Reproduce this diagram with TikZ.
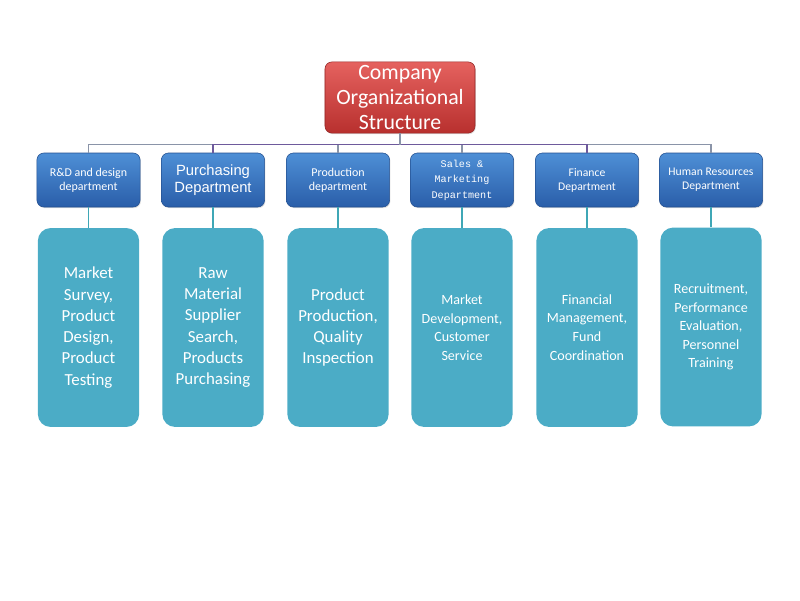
\documentclass[tikz,border=0pt]{standalone}
\usepackage{fontspec}
\setmainfont{Carlito}
\newfontfamily\arialfont{Liberation Sans}
\newfontfamily\monofont{Liberation Mono}
\usetikzlibrary{positioning,shadows}
\definecolor{rootTop}{HTML}{E5625F}
\definecolor{rootBot}{HTML}{B8302E}
\definecolor{deptTop}{HTML}{4E8FD6}
\definecolor{deptBot}{HTML}{2A5EA9}
\definecolor{task}{HTML}{4BACC6}
\definecolor{busline}{HTML}{8A94A8}
\definecolor{trunk}{HTML}{6E5A9C}
\definecolor{stem}{HTML}{3FA7B6}

\begin{document}
\begin{tikzpicture}[x=0.025cm,y=-0.025cm,
 root/.style={draw=rootBot!80!black,rounded corners=5pt,align=center,text=white,
 top color=rootTop,bottom color=rootBot,minimum width=3.75cm,minimum height=1.78cm,
 inner sep=1pt,font=\fontsize{15.5}{17.7}\selectfont,
 drop shadow={opacity=0.25,shadow xshift=0.6pt,shadow yshift=-0.8pt}},
 dept/.style={draw=deptBot!85!black,rounded corners=5pt,align=center,text=white,
 top color=deptTop,bottom color=deptBot,minimum width=2.58cm,minimum height=1.35cm,
 inner sep=1pt,font=\fontsize{8.5}{10}\selectfont,
 drop shadow={opacity=0.25,shadow xshift=0.6pt,shadow yshift=-0.8pt}},
 task/.style={fill=task,rounded corners=9pt,align=center,text=white,
 minimum width=2.53cm,minimum height=4.97cm,inner sep=1pt},
 bus/.style={draw=busline,line width=0.8pt},
 trunk/.style={draw=trunk,line width=1.2pt},
 stem/.style={draw=stem,line width=1.2pt}]
\useasboundingbox (0,0) rectangle (800,600);
\node[root] (root) at (400,97.5) {Company\\Organizational\\Structure};
\node[dept] (rd) at (88.5,180) {R\&D and design\\department};
\node[dept,font=\arialfont\fontsize{10.5}{12.5}\selectfont] (pur) at (213,180) {Purchasing\\Department};
\node[dept] (prod) at (338,180) {Production\\department};
\node[dept,font=\monofont\fontsize{7.2}{11}\selectfont] (sales) at (462,180) {Sales \&\\Marketing\\Department};
\node[dept,font=\fontsize{8.3}{10}\selectfont] (fin) at (587,180) {Finance\\Department};
\node[dept,font=\fontsize{8.3}{10}\selectfont] (hr) at (711,180) {Human Resources\\Department};
\node[task,font=\fontsize{12}{15.1}\selectfont] (rdtask) at (88.5,327.5) {Market\\Survey,\\Product\\Design,\\Product\\Testing};
\node[task,font=\fontsize{12}{15}\selectfont] (purtask) at (213,327.5) {Raw\\Material\\Supplier\\Search,\\Products\\Purchasing};
\node[task,font=\fontsize{12}{15}\selectfont] (prodtask) at (338,327.5) {Product\\Production,\\Quality\\Inspection};
\node[task,font=\fontsize{10}{13.2}\selectfont] (salestask) at (462,327.5) {Market\\Development,\\Customer\\Service};
\node[task,font=\fontsize{10}{13.4}\selectfont] (fintask) at (587,327.5) {Financial\\Management,\\Fund\\Coordination};
\node[task,font=\fontsize{10}{13.2}\selectfont] (hrtask) at (711,327) {Recruitment,\\Performance\\Evaluation,\\Personnel\\Training};
\coordinate (hub) at (400,144.5);
% bus from the root to the departments
\draw[bus] (rd.north) |- (hub) -| (hr.north);
\draw[bus] (prod.north) -- (prod.north |- hub);
\draw[bus] (sales.north) -- (sales.north |- hub);
\draw[trunk] (pur.north) |- (hub) -| (fin.north);
\draw[bus] (root.south) -- (hub);
% departments to their tasks
\draw[stem] (rd) -- (rdtask);
\draw[stem] (pur) -- (purtask);
\draw[stem] (prod) -- (prodtask);
\draw[stem] (sales) -- (salestask);
\draw[stem] (fin) -- (fintask);
\draw[stem] (hr) -- (hrtask);
\end{tikzpicture}
\end{document}
